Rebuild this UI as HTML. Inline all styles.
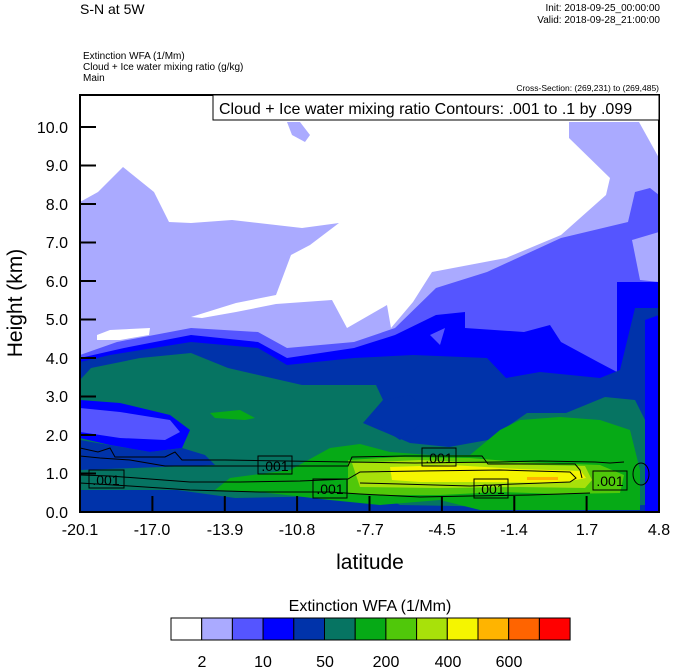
<!DOCTYPE html>
<html><head><meta charset="utf-8"><style>
body{margin:0;background:#fff;width:674px;height:668px;overflow:hidden}
svg{display:block;font-family:"Liberation Sans",Arial,sans-serif}
</style></head><body>
<svg width="674" height="668" viewBox="0 0 674 668" xmlns="http://www.w3.org/2000/svg">
<defs><clipPath id="pc"><rect x="80" y="95" width="579" height="417"/></clipPath></defs>
<g clip-path="url(#pc)">
<rect x="80" y="95" width="579" height="417" fill="#fff"/>
<!-- lavender -->
<path fill="#aaaaff" d="M80,202 L98,192 L123,167 L154,192 L169,222 L191,223 L232,220 L302,228 L339,223 L310,245 L291,255 L276,295 L236,303 L191,317 L202,318 L236,312 L276,304 L332,300 L347,328 L387,305 L391,328 L413,302 L432,272 L506,258 L561,235 L606,195 L610,178 L569,138 L569,122 L639,122 L659,158 L659,512 L80,512 Z"/>
<path fill="#aaaaff" d="M287,122 L300,122 L310,135 L305,142 L292,135 Z"/>
<path fill="#fff" d="M97,335 L110,330 L150,328 L149,335 L120,340 L97,340 Z"/>
<!-- medium blue -->
<path fill="#5555ff" d="M80,355 L117,342 L191,328 L258,332 L287,348 L354,342 L395,328 L436,288 L487,272 L561,238 L628,222 L635,192 L650,188 L659,195 L659,512 L80,512 Z"/>
<path fill="#aaaaff" d="M632,240 L659,232 L659,282 L640,280 Z"/>
<!-- blue -->
<path fill="#0000ff" d="M80,358 L124,348 L191,335 L258,342 L287,358 L354,348 L395,335 L436,315 L465,312 L465,328 L524,332 L550,325 L561,342 L598,362 L617,372 L617,282 L659,282 L659,512 L80,512 Z"/>
<path fill="#5555ff" d="M430,335 L445,328 L440,345 Z"/>
<!-- dark blue -->
<path fill="#0033aa" d="M80,362 L110,355 L191,342 L258,348 L287,365 L354,358 L413,355 L487,358 L506,378 L540,372 L600,378 L620,370 L635,308 L659,308 L659,512 L80,512 Z"/>
<path fill="#0000ff" d="M645,320 L659,315 L659,512 L645,512 Z"/>
<!-- teal -->
<path fill="#067462" d="M91,368 L140,358 L191,353 L228,368 L302,385 L376,385 L383,400 L363,423 L410,443 L449,447 L488,440 L527,413 L566,413 L605,397 L635,400 L645,420 L645,505 L560,508 L400,505 L380,495 L235,498 L177,490 L80,490 L80,380 Z"/>
<!-- left blob inside teal -->
<path fill="#0000ff" d="M80,400 L120,403 L170,415 L190,430 L182,448 L150,452 L110,445 L80,438 Z"/>
<path fill="#5555ff" d="M80,408 L120,412 L170,420 L180,432 L165,440 L120,438 L80,432 Z"/>
<path fill="#0033aa" d="M80,440 L150,452 L182,448 L205,455 L215,465 L80,470 Z"/>
<path fill="#0033aa" d="M383,400 L410,395 L420,405 L420,425 L400,440 L370,420 Z"/>
<!-- green -->
<path fill="#06aa16" d="M210,413 L240,410 L255,418 L245,420 L215,418 Z"/>
<path fill="#06aa16" d="M330,448 L360,444 L390,452 L430,455 L470,455 L500,430 L520,420 L560,417 L600,420 L630,430 L640,470 L640,510 L480,510 L440,500 L380,505 L330,500 L260,492 L215,490 L230,478 L290,470 Z"/>
<!-- light green -->
<path fill="#50c80a" d="M348,460 L400,457 L470,458 L520,462 L600,465 L624,475 L620,493 L560,494 L500,492 L440,495 L380,495 L348,493 Z"/>
<!-- yellow green -->
<path fill="#a8e10a" d="M352,463 L420,460 L500,464 L585,466 L592,480 L585,488 L520,487 L440,488 L360,487 Z"/>
<!-- yellow -->
<path fill="#f5f500" d="M390,467 L450,465 L520,469 L581,471 L586,478 L560,483 L480,482 L420,482 L392,480 Z"/>
<path fill="#ffb400" d="M527,477 L558,477 L558,480 L527,480 Z"/>
<!-- contours -->
<g fill="none" stroke="#000" stroke-width="1">
<path d="M80,448 L98,452 L110,448 L115,457 L165,457 L175,452 L182,460 L225,460 L415,463 L500,462 L540,461 L595,462 L610,463 L624,462"/>
<path d="M80,456 L100,458 L130,460 L165,466 L240,466 L348,466 L352,457 L405,456 L482,456 L488,464 L575,464 L580,470 L582,478"/>
<path d="M80,475 L110,476 L150,479 L190,482 L240,482 L300,481 L348,479 L360,472 L420,471 L500,470 L570,472 L576,478 L570,482 L515,484 L470,486 L400,484 L360,483"/>
<path d="M80,483 L130,486 L190,490 L260,492 L330,492 L360,494 L420,497 L470,496 L530,495 L590,493"/>
<ellipse cx="641" cy="474" rx="8" ry="11"/>
</g>
<g font-size="14" text-anchor="middle">
<rect x="89" y="470" width="35" height="18" fill="none" stroke="#000"/><text x="106" y="485">.001</text>
<rect x="258" y="456" width="34" height="18" fill="none" stroke="#000"/><text x="275" y="471">.001</text>
<rect x="313" y="479" width="34" height="19" fill="none" stroke="#000"/><text x="330" y="494">.001</text>
<rect x="422" y="448" width="34" height="18" fill="none" stroke="#000"/><text x="439" y="463">.001</text>
<rect x="474" y="479" width="34" height="19" fill="none" stroke="#000"/><text x="491" y="494">.001</text>
<rect x="593" y="471" width="34" height="19" fill="none" stroke="#000"/><text x="610" y="486">.001</text>
</g>
</g>
<rect x="80" y="95" width="579" height="417" fill="none" stroke="#000" stroke-width="2"/>
<!-- legend box -->
<rect x="213" y="95" width="446" height="25" fill="#fff" stroke="#000" stroke-width="1"/>
<text x="219" y="114" font-size="16">Cloud + Ice water mixing ratio Contours: .001 to .1 by .099</text>
<!-- y ticks -->
<g stroke="#000" stroke-width="2">
<path d="M80,127h16M80,165.5h16M80,204h16M80,242.5h16M80,281h16M80,319.5h16M80,358h16M80,396.5h16M80,435h16M80,473.5h16"/>
<path d="M152.4,512v-16M224.8,512v-16M297.1,512v-16M369.5,512v-16M441.9,512v-16M514.3,512v-16M586.6,512v-16"/>
</g>
<g font-size="16" text-anchor="end">
<text x="68" y="133">10.0</text><text x="68" y="171">9.0</text><text x="68" y="210">8.0</text><text x="68" y="248">7.0</text><text x="68" y="287">6.0</text><text x="68" y="325">5.0</text><text x="68" y="364">4.0</text><text x="68" y="402">3.0</text><text x="68" y="441">2.0</text><text x="68" y="479">1.0</text><text x="68" y="518">0.0</text>
</g>
<g font-size="16" text-anchor="middle">
<text x="80" y="535">-20.1</text><text x="152" y="535">-17.0</text><text x="225" y="535">-13.9</text><text x="297" y="535">-10.8</text><text x="370" y="535">-7.7</text><text x="442" y="535">-4.5</text><text x="514" y="535">-1.4</text><text x="587" y="535">1.7</text><text x="659" y="535">4.8</text>
</g>
<text x="370" y="569" font-size="21" text-anchor="middle">latitude</text>
<text transform="translate(22,303) rotate(-90)" font-size="21" text-anchor="middle">Height (km)</text>
<!-- titles -->
<text x="80" y="14" font-size="14">S-N at 5W</text>
<text x="660" y="11" font-size="10" text-anchor="end">Init: 2018-09-25_00:00:00</text>
<text x="660" y="23" font-size="10" text-anchor="end">Valid: 2018-09-28_21:00:00</text>
<text x="83" y="59" font-size="10">Extinction WFA   (1/Mm)</text>
<text x="83" y="70" font-size="10">Cloud + Ice water mixing ratio   (g/kg)</text>
<text x="83" y="81" font-size="10">Main</text>
<text x="659" y="91" font-size="8.5" text-anchor="end">Cross-Section: (269,231) to (269,485)</text>
<!-- colorbar -->
<text x="370" y="611" font-size="16" text-anchor="middle">Extinction WFA  (1/Mm)</text>
<g stroke="#000" stroke-width="1">
<rect x="171" y="618" width="30.7" height="22" fill="#ffffff"/>
<rect x="201.7" y="618" width="30.7" height="22" fill="#aaaaff"/>
<rect x="232.4" y="618" width="30.7" height="22" fill="#5555ff"/>
<rect x="263.1" y="618" width="30.7" height="22" fill="#0000ff"/>
<rect x="293.8" y="618" width="30.7" height="22" fill="#0033aa"/>
<rect x="324.5" y="618" width="30.7" height="22" fill="#067462"/>
<rect x="355.2" y="618" width="30.7" height="22" fill="#06aa16"/>
<rect x="385.9" y="618" width="30.7" height="22" fill="#50c80a"/>
<rect x="416.6" y="618" width="30.7" height="22" fill="#a8e10a"/>
<rect x="447.3" y="618" width="30.7" height="22" fill="#f5f500"/>
<rect x="478" y="618" width="30.7" height="22" fill="#ffb400"/>
<rect x="508.7" y="618" width="30.7" height="22" fill="#ff6400"/>
<rect x="539.4" y="618" width="30.7" height="22" fill="#ff0000"/>
</g>
<g font-size="16" text-anchor="middle">
<text x="202" y="667">2</text><text x="263" y="667">10</text><text x="325" y="667">50</text><text x="386" y="667">200</text><text x="448" y="667">400</text><text x="509" y="667">600</text>
</g>
</svg>
</body></html>
